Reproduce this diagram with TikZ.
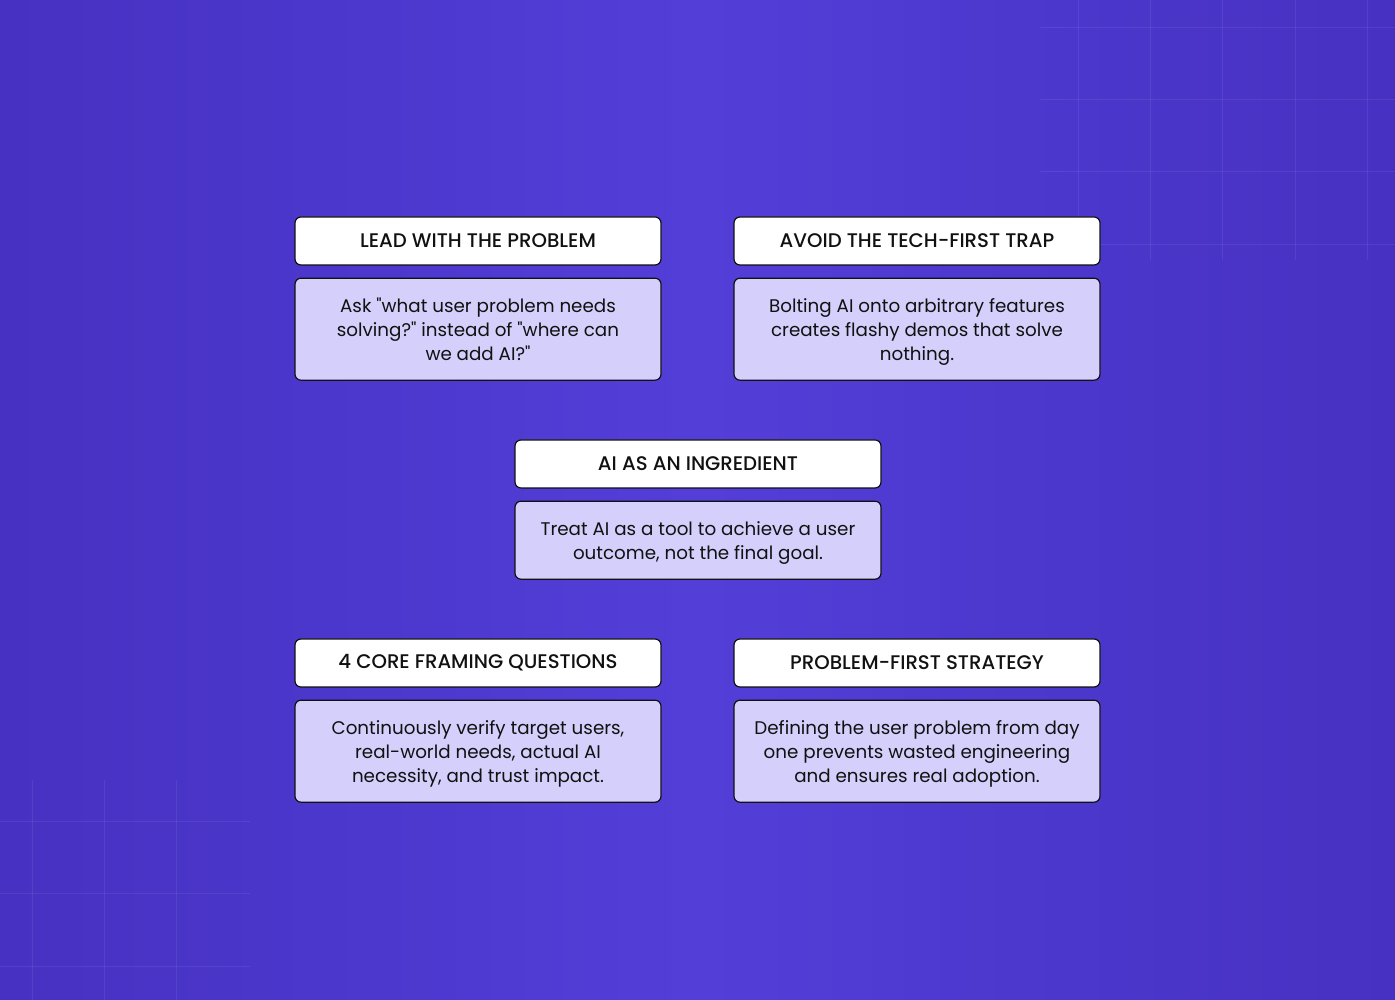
\documentclass[tikz,border=0pt]{standalone}
\usepackage{fontspec}
\newfontfamily\bodyfont{Poppins}
\newfontfamily\titlefont{Poppins Medium}
\usetikzlibrary{positioning}
\definecolor{bgdark}{HTML}{4631C2}
\definecolor{bgmid}{HTML}{533ED8}
\definecolor{cardfill}{HTML}{D4CFFB}
\definecolor{inkcol}{HTML}{111111}
\tikzset{
  titlebox/.style={draw=inkcol, line width=1.2pt, fill=white, rounded corners=6pt,
    minimum width=366pt, minimum height=48pt, inner sep=0pt,
    font=\titlefont\fontsize{19.7}{20}\selectfont, text=inkcol},
  bodybox/.style={draw=inkcol, line width=1.2pt, fill=cardfill, rounded corners=6pt,
    minimum width=366pt, inner sep=0pt, align=center, text depth=0pt,
    font=\bodyfont\fontsize{18.3}{24}\selectfont, text=inkcol},
  gridline/.style={white, opacity=0.07, line width=1pt},
}
\begin{document}
\begin{tikzpicture}[x=1pt, y=1pt, node distance=12pt]
  % background
  \shade[left color=bgdark, right color=bgdark, middle color=bgmid] (0,0) rectangle (1395,1000);
  \useasboundingbox (0,0) rectangle (1395,1000);
  % faint grid, top right and bottom left
  \foreach \gx in {1078,1150,1222,1295,1367}
    \draw[gridline] (\gx,1000) -- (\gx,740);
  \foreach \gy in {972,900,828,755}
    \draw[gridline] (1040,\gy) -- (1395,\gy);
  \foreach \gx in {32,104,176}
    \draw[gridline] (\gx,0) -- (\gx,220);
  \foreach \gy in {178,106,33}
    \draw[gridline] (0,\gy) -- (250,\gy);

  % cards
  \node[titlebox] (lead) at (478,759) {LEAD WITH THE PROBLEM};
  \node[bodybox, minimum height=102pt, below=of lead] (leadtxt)
    {Ask "what user problem needs\\solving?" instead of "where can\\we add AI?"};

  \node[titlebox] (avoid) at (917,759) {AVOID THE TECH-FIRST TRAP};
  \node[bodybox, minimum height=102pt, below=of avoid] (avoidtxt)
    {Bolting AI onto arbitrary features\\creates flashy demos that solve\\nothing.};

  \node[titlebox] (ingr) at (698,536) {AI AS AN INGREDIENT};
  \node[bodybox, minimum height=78pt, below=of ingr] (ingrtxt)
    {Treat AI as a tool to achieve a user\\outcome, not the final goal.};

  \node[titlebox] (core) at (478,337) {4 CORE FRAMING QUESTIONS};
  \node[bodybox, minimum height=102pt, below=of core] (coretxt)
    {Continuously verify target users,\\real-world needs, actual AI\\necessity, and trust impact.};

  \node[titlebox] (strat) at (917,337) {PROBLEM-FIRST STRATEGY};
  \node[bodybox, minimum height=102pt, below=of strat] (strattxt)
    {Defining the user problem from day\\one prevents wasted engineering\\and ensures real adoption.};
\end{tikzpicture}
\end{document}
